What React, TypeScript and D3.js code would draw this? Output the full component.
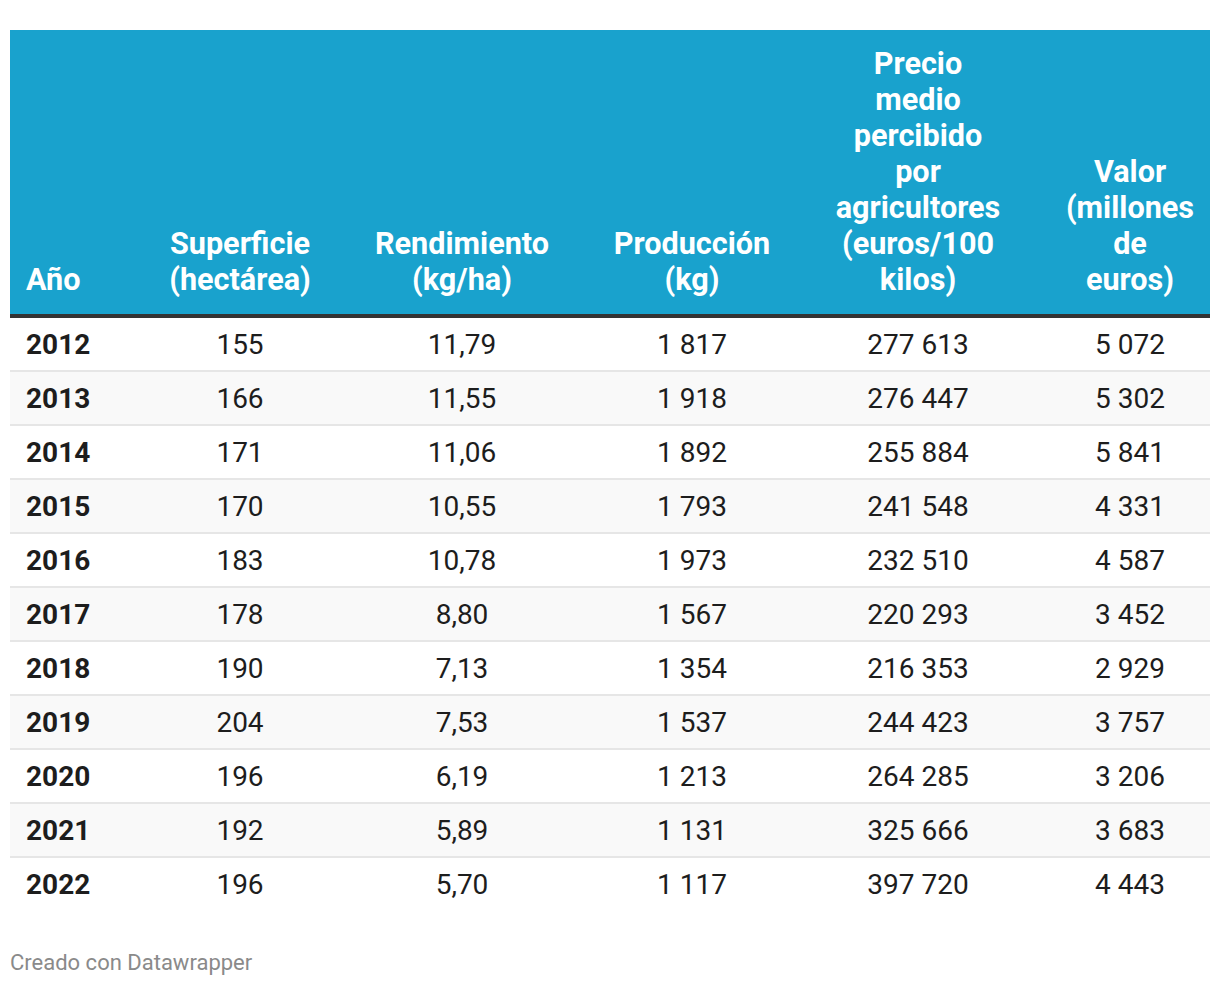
import React from "react";
import * as d3 from "d3";

const years = [2012, 2013, 2014, 2015, 2016, 2017, 2018, 2019, 2020, 2021, 2022];
const superficie = [155, 166, 171, 170, 183, 178, 190, 204, 196, 192, 196];
const rendimiento = [11.79, 11.55, 11.06, 10.55, 10.78, 8.8, 7.13, 7.53, 6.19, 5.89, 5.7];
const produccion = [1817, 1918, 1892, 1793, 1973, 1567, 1354, 1537, 1213, 1131, 1117];
const precio = [277613, 276447, 255884, 241548, 232510, 220293, 216353, 244423, 264285, 325666, 397720];
const valor = [5072, 5302, 5841, 4331, 4587, 3452, 2929, 3757, 3206, 3683, 4443];

const headers: string[][] = [
  ["Año"],
  ["Superficie", "(hectárea)"],
  ["Rendimiento", "(kg/ha)"],
  ["Producción", "(kg)"],
  ["Precio", "medio", "percibido", "por", "agricultores", "(euros/100", "kilos)"],
  ["Valor", "(millones", "de", "euros)"],
];

const W = 1220;
const H = 986;
const FONT = "Roboto, 'Noto Sans', sans-serif";

const loc = d3.formatLocale({ decimal: ",", thousands: " ", grouping: [3], currency: ["", " €"] });
const fInt = loc.format(",d");
const fDec = loc.format(",.2f");

export default function App() {
  const left = 10;
  const right = 1210;
  const headTop = 30;
  const headBottom = 314;
  const rowTop = 318;
  const rowH = 54;

  const y = d3
    .scaleBand<number>()
    .domain(years)
    .range([rowTop, rowTop + rowH * years.length])
    .paddingInner(0)
    .paddingOuter(0);

  const colKeys = ["year", "sup", "ren", "pro", "pre", "val"];
  const x = d3.scaleOrdinal<string, number>().domain(colKeys).range([26, 240, 462, 692, 918, 1130]);
  const anchors = ["start", "middle", "middle", "middle", "middle", "middle"];

  const cols: string[][] = [
    years.map((v) => String(v)),
    superficie.map((v) => fInt(v)),
    rendimiento.map((v) => fDec(v)),
    produccion.map((v) => fInt(v)),
    precio.map((v) => fInt(v)),
    valor.map((v) => fInt(v)),
  ];

  const lineH = 36;
  const lastBaseline = 290;

  return (
    <div style={{ position: "absolute", left: 0, top: 0, width: W, height: H, background: "#fff" }}>
      <svg width={W} height={H} style={{ display: "block" }} fontFamily={FONT}>
        <rect x={0} y={0} width={W} height={H} fill="#fff" />
        <rect x={left} y={headTop} width={right - left} height={headBottom - headTop} fill="#19a2cd" />
        <rect x={left} y={headBottom} width={right - left} height={4} fill="#333333" />
        {headers.map((lines, ci) =>
          lines.map((t, li) => (
            <text
              key={`h${ci}-${li}`}
              x={x(colKeys[ci])}
              y={lastBaseline - (lines.length - 1 - li) * lineH}
              textAnchor={anchors[ci] as any}
              fontSize={30.6}
              fontWeight={700}
              fill="#ffffff"
            >
              {t}
            </text>
          ))
        )}
        {years.map((yr, ri) => {
          const top = y(yr)!;
          return (
            <g key={yr}>
              {ri % 2 === 1 && (
                <rect x={left} y={top} width={right - left} height={y.bandwidth()} fill="#f9f9f9" />
              )}
              {ri > 0 && <rect x={left} y={top - 2} width={right - left} height={2} fill="#e6e6e6" />}
              {cols.map((c, ci) => (
                <text
                  key={ci}
                  x={x(colKeys[ci])}
                  y={top + 36}
                  textAnchor={anchors[ci] as any}
                  fontSize={28}
                  fontWeight={ci === 0 ? 700 : 400}
                  fill="#1d1d1d"
                >
                  {c[ri]}
                </text>
              ))}
            </g>
          );
        })}
        <text x={10} y={970} fontSize={22} fill="#8a8a8a">
          Creado con Datawrapper
        </text>
      </svg>
    </div>
  );
}
